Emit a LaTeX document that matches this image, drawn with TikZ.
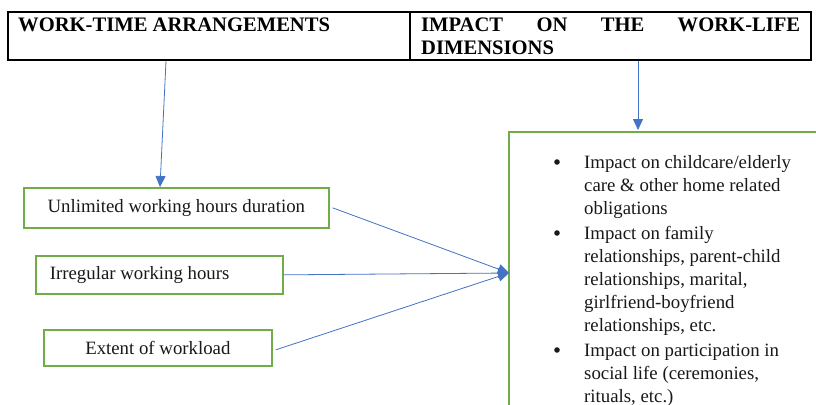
\documentclass[tikz,border=0pt]{standalone}
\usepackage{fontspec}
\setmainfont{Liberation Serif}
\usetikzlibrary{arrows.meta}
\definecolor{boxgreen}{RGB}{112,173,71}
\definecolor{arrowblue}{RGB}{68,114,196}
\tikzset{
  greenbox/.style={draw=boxgreen, line width=1.7pt, rectangle, inner sep=0pt,
    font=\fontsize{18.8}{23}\selectfont, text=black!90},
  conn/.style={draw=arrowblue, line width=0.8pt, -{Triangle[length=11pt,width=10pt]}},
  hdr/.style={font=\bfseries\fontsize{20.6}{24}\selectfont, inner sep=0pt, anchor=base west},
  bodytxt/.style={font=\fontsize{18.8}{23}\selectfont, inner sep=0pt, anchor=base west, text=black!90},
  bulletdot/.style={circle, fill=black!90, inner sep=0pt, minimum size=5.6pt},
}
\newcommand{\bultext}[1]{\parbox[t]{240pt}{\raggedright\fontsize{18.8}{23}\selectfont #1}}
\begin{document}
\begin{tikzpicture}[x=1pt,y=-1pt]
\useasboundingbox (0,0) rectangle (816,404);
\fill[white] (0,0) rectangle (816,404);
% header table
\draw[line width=1.1pt] (8,12) rectangle (811,60);
\draw[line width=1.1pt] (410,12) -- (410,60);
\node[hdr] (hl) at (18,32) {WORK-TIME ARRANGEMENTS};
\node[hdr] (hr1) at (421,32) {\hbox to 379pt{IMPACT\hfill ON\hfill THE\hfill WORK-LIFE}};
\node[hdr] (hr2) at (421,55) {DIMENSIONS};
% left boxes
\node[greenbox, minimum width=305pt, minimum height=40pt, anchor=north west] (b1) at (23,187) {Unlimited working hours duration};
\node[greenbox, minimum height=38pt, anchor=north west] (b2) at (35,255) {\makebox[247pt][l]{\hspace{14pt}Irregular working hours}};
\node[greenbox, minimum width=228pt, minimum height=36pt, anchor=north west] (b3) at (43,329) {Extent of workload};
% right box
\begin{scope}
\clip (0,0) rectangle (816,404);
\node[greenbox, minimum width=340pt, minimum height=320pt, anchor=north west] (impact) at (508,131) {};
\end{scope}
% bullets
\node[bulletdot] (d1) at (557,162) {};
\node[bodytxt] (t1) at (584,168) {\bultext{Impact on childcare/elderly\\care \& other home related\\obligations}};
\node[bulletdot] (d2) at (557,233) {};
\node[bodytxt] (t2) at (584,239) {\bultext{Impact on family\\relationships, parent-child\\relationships, marital,\\girlfriend-boyfriend\\relationships, etc.}};
\node[bulletdot] (d3) at (557,350) {};
\node[bodytxt] (t3) at (584,356) {\bultext{Impact on participation in\\social life (ceremonies,\\rituals, etc.)}};
% connectors
\coordinate (s1) at (166,61);
\coordinate (e1) at (160,187);
\coordinate (s2) at (638,61);
\coordinate (e2) at (638,130);
\coordinate (tip) at (509,273);
\draw[conn] (s1) -- (e1);
\draw[conn] (s2) -- (e2);
\draw[conn] (b1.east) ++(3,0) -- (tip);
\draw[conn] (b2.east) -- (tip);
\draw[conn] (b3.east) ++(3,2) -- (tip);
\end{tikzpicture}
\end{document}
